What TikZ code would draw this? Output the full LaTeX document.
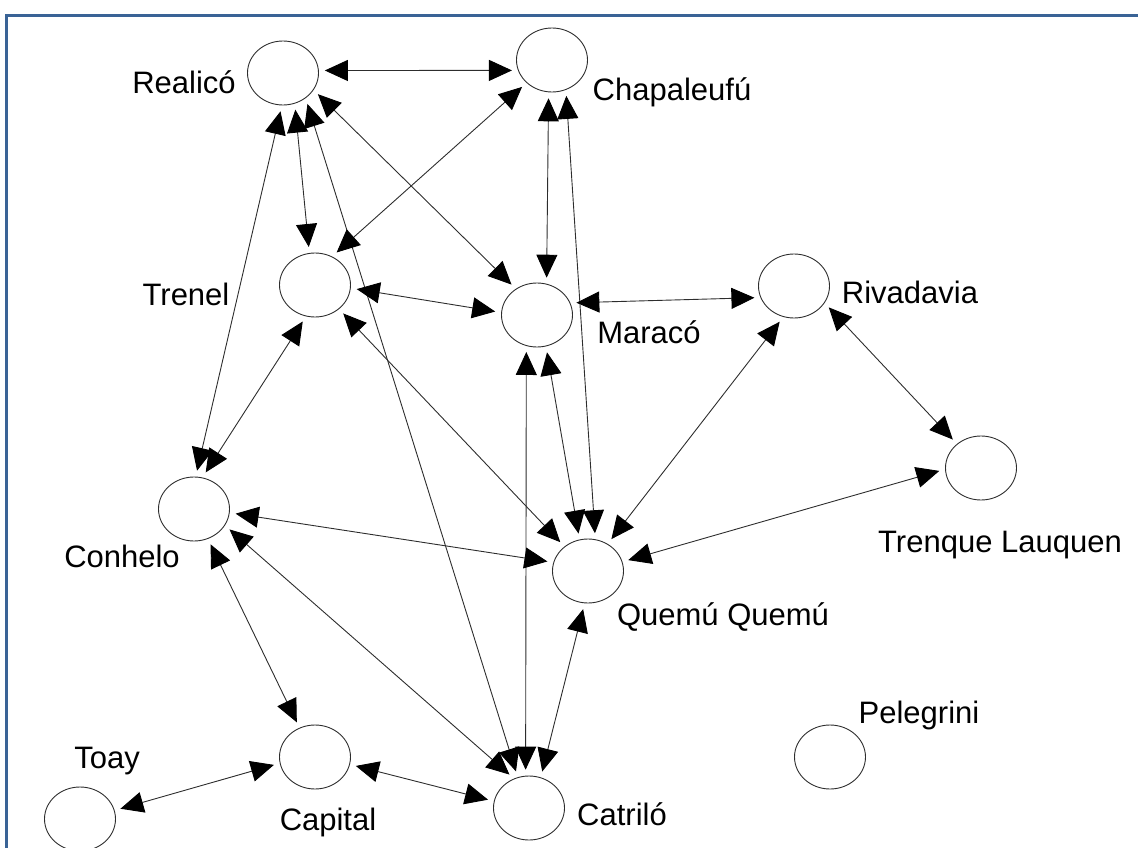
\documentclass[tikz,border=0pt]{standalone}
\usepackage{fontspec}
\setmainfont{Liberation Sans}
\usetikzlibrary{shapes.geometric,arrows.meta}
\definecolor{framecol}{RGB}{58,99,150}
\definecolor{linecol}{RGB}{45,45,45}
\begin{document}
\begin{tikzpicture}[x=1pt,y=-1pt,
  city/.style={ellipse,draw=linecol,line width=0.9pt,minimum width=71pt,minimum height=64pt,inner sep=0pt},
  lbl/.style={anchor=base,font=\fontsize{31}{36}\selectfont,inner sep=0pt},
  tipb/.tip={Triangle[length=23pt,width=21pt,color=black]},
  link/.style={draw=linecol,line width=0.9pt,tipb-tipb,shorten <=6pt,shorten >=6pt}]
\useasboundingbox (0,0) rectangle (1138,848);
\draw[framecol,line width=3pt] (1138,15.5) -- (6.5,15.5) -- (6.5,848);

% nodes
\node[city] (R)  at (283,73)  {};
\node[city] (Ch) at (552,60)  {};
\node[city] (T)  at (315,285) {};
\node[city] (M)  at (537,315) {};
\node[city] (Rv) at (794,286) {};
\node[city] (TL) at (981,468) {};
\node[city] (Co) at (194,509) {};
\node[city] (Q)  at (588,571) {};
\node[city] (Ca) at (315,757) {};
\node[city] (To) at (80,819)  {};
\node[city] (Ct) at (529,808) {};
\node[city] (P)  at (830,757) {};

% labels
\node[lbl] (lR)  at (184,94)   {Realicó};
\node[lbl] (lCh) at (672,101)  {Chapaleufú};
\node[lbl] (lT)  at (186,305)  {Trenel};
\node[lbl] (lM)  at (649,343)  {Maracó};
\node[lbl] (lRv) at (910,303)  {Rivadavia};
\node[lbl] (lTL) at (1000,552) {Trenque Lauquen};
\node[lbl] (lCo) at (122,567)  {Conhelo};
\node[lbl] (lQ)  at (723,625)  {Quemú Quemú};
\node[lbl] (lCa) at (328,830)  {Capital};
\node[lbl] (lTo) at (107,768)  {Toay};
\node[lbl] (lCt) at (622,825)  {Catriló};
\node[lbl] (lP)  at (919,723)  {Pelegrini};

% connectors
\draw[link] (R.4)     -- (Ch.197);
\draw[link] (R.291)   -- (T.100);
\draw[link] (R.268.6) -- (Co.87);
\draw[link] (R.312)   -- (Ct.110.7);
\draw[link] (R.331.6) -- (M.129.3);
\draw[link] (Ch.222)  -- (T.59.3);
\draw[link] (Ch.264)  -- (M.73.9);
\draw[link] (Ch.295)  -- (Q.77.2);
\draw[link] (T.355.6) -- (M.176.9);
\draw[link] (T.254.6) -- (Co.75.2);
\draw[link] (T.315)   -- (Q.134);
\draw[link] (M.20.1)  -- (Rv.199);
\draw[link] (M.286.6) -- (Q.105.8);
\draw[link] (M.251)   -- (Ct.96);
\draw[link] (Rv.251)  -- (Q.54.7);
\draw[link] (Rv.331)  -- (TL.135.8);
\draw[link] (TL.182.6) -- (Q.15.5);
\draw[link] (Co.354)  -- (Q.166);
\draw[link] (Co.332)  -- (Ct.117.5);
\draw[link] (Co.295)  -- (Ca.118.8);
\draw[link] (To.14.7) -- (Ca.190);
\draw[link] (Ca.348.7) -- (Ct.169.5);
\draw[link] (Q.264.4) -- (Ct.69);
\end{tikzpicture}
\end{document}
